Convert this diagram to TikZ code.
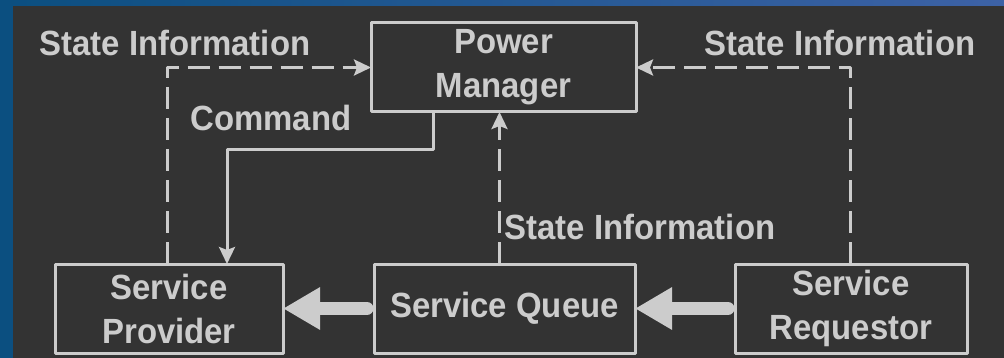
\documentclass[tikz,border=0pt]{standalone}
\usepackage{fontspec}
\setmainfont[FakeStretch=0.94]{Liberation Sans}
\usetikzlibrary{arrows.meta, positioning}

\definecolor{fg}{HTML}{CCCCCC}
\definecolor{bg}{HTML}{333333}
\definecolor{frameblue}{HTML}{0B4F80}
\definecolor{frameblue2}{HTML}{3D62A6}

\tikzset{
  block/.style={draw=fg, line width=3pt, inner sep=0pt, outer sep=0pt,
    minimum height=89pt, align=center, text=fg,
    font=\bfseries\fontsize{35}{44}\selectfont},
  tag/.style={text=fg, inner sep=0pt, font=\bfseries\fontsize{35}{40}\selectfont},
  dashline/.style={draw=fg, line width=3pt, dash pattern=on 22pt off 9pt},
  cmdline/.style={draw=fg, line width=3pt},
  fat/.style={draw=fg, line width=13pt, line cap=round, shorten <=7pt,
    -{Triangle[length=37pt, width=40pt]}},
}

\begin{document}
\begin{tikzpicture}[x=1pt, y=-1pt, line join=round,
    >={Stealth[length=17pt, width=16pt, inset=3pt]}]

    % Background and frame
    \useasboundingbox (0,0) rectangle (1004,358);
    \shade[left color=frameblue, right color=frameblue2] (0,0) rectangle (1004,358);
    \fill[bg] (13,6) rectangle (1004,358);

    % Boxes
    \node[block, minimum width=265pt] (pm) at (503.5,67.5) {Power\\Manager};
    \node[block, minimum width=228pt] (provider) at (169,308.5) {Service\\Provider};
    \node[block, minimum width=261pt] (queue) at (504.5,308.5) {Service Queue};
    \node[block, minimum width=232pt] (requestor) at (851,308.5) {Service\\Requestor};

    % State information to the manager
    \draw[dashline, ->] ([xshift=-2pt]provider.north) |- (pm.west);
    \draw[dashline, ->] ([xshift=-1pt]requestor.north) |- (pm.east);
    \draw[dashline, ->] ([xshift=-5pt]queue.north) -- ([xshift=-5pt]queue.north |- pm.south);

    % Command
    \draw[cmdline, ->] ([xshift=-70pt]pm.south) -- ++(0,38) -| ([xshift=58pt]provider.north);

    % Requests
    \draw[fat] (queue.west) -- (provider.east);
    \draw[fat] (requestor.west) -- (queue.east);

    % Labels
    \node[tag] (si left) at (175,43) {State Information};
    \node[tag] (si right) at (840,43) {State Information};
    \node[tag] (si mid) at (640,227) {State Information};
    \node[tag] (cmd) at (271,118) {Command};

\end{tikzpicture}
\end{document}
